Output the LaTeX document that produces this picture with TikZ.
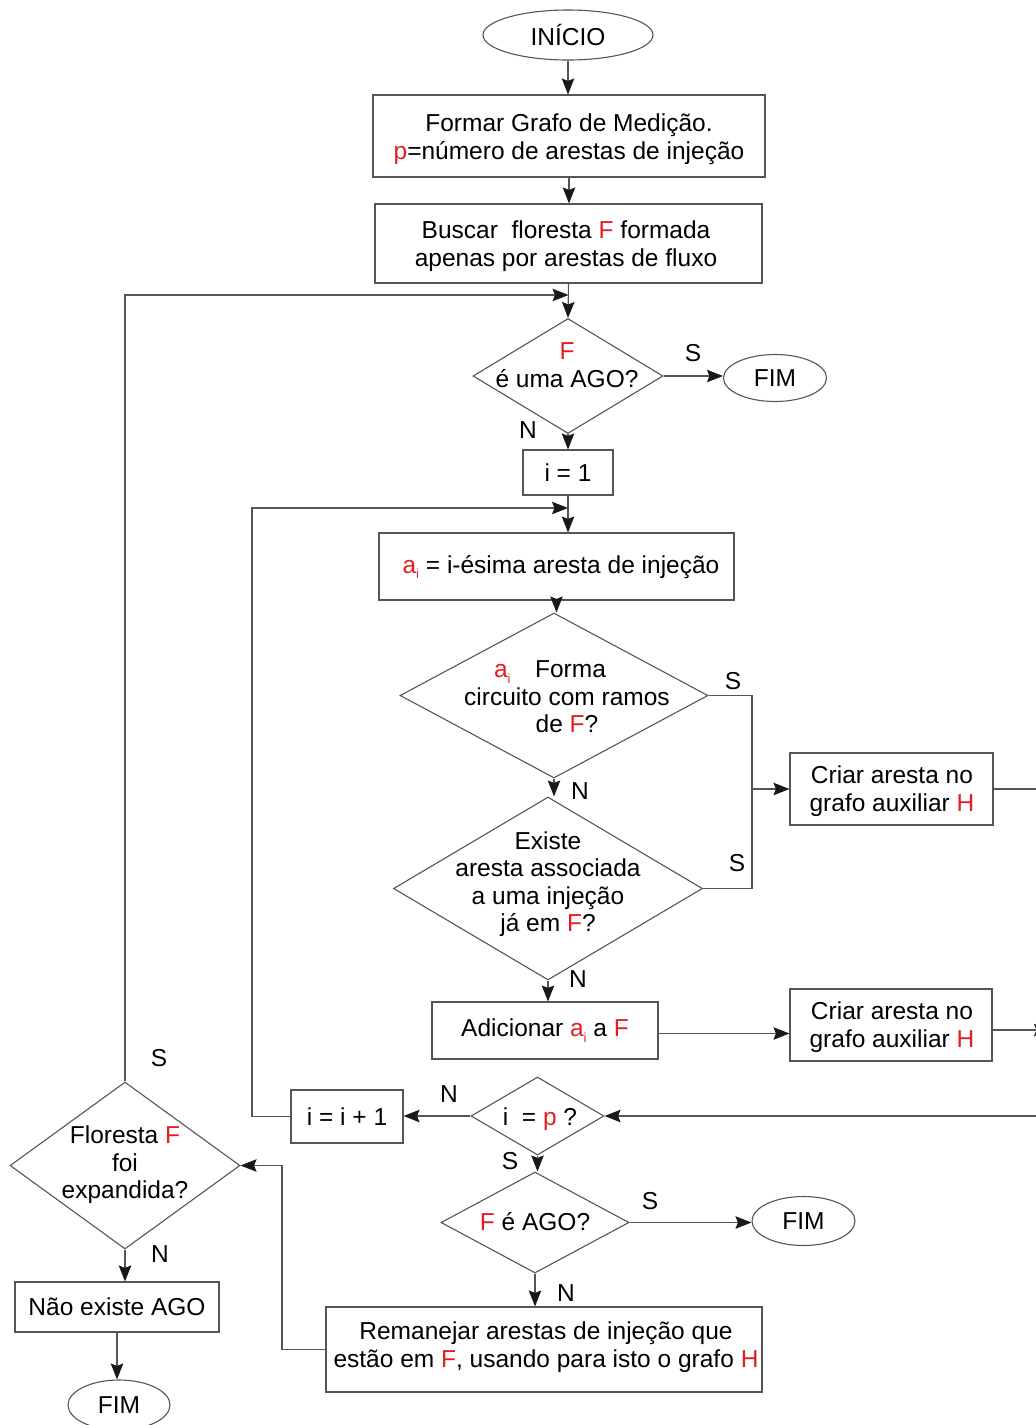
\documentclass[tikz,border=0pt]{standalone}
\usepackage{fontspec}
\setmainfont{Liberation Sans}
\usetikzlibrary{shapes.geometric,arrows.meta}
\definecolor{hlred}{RGB}{226,30,36}
\definecolor{ln}{RGB}{85,85,85}
\newcommand\rd[1]{\textcolor{hlred}{#1}}
\newcommand\subi{\raisebox{-0.45ex}{\fontsize{13}{13}\selectfont i}}
\begin{document}
\begin{tikzpicture}[x=1pt,y=-1pt,
  every node/.style={font=\fontsize{24.5}{27.5}\selectfont},
  box/.style={draw=ln, line width=1.1pt, rectangle, inner sep=0pt, align=center},
  term/.style={draw=ln, line width=1.1pt, ellipse, inner sep=0pt},
  dec/.style={draw=ln, line width=1.1pt, diamond, inner sep=0pt},
  txt/.style={align=center, inner sep=0pt},
  lab/.style={inner sep=0pt},
  link/.style={draw=ln, line width=1.1pt},
  flow/.style={draw=ln, line width=1.1pt,
    -{Stealth[length=16pt,width=12.5pt,inset=2.5pt,color=black!90]}}]
\useasboundingbox (0,0) rectangle (1036,1425);

% main column
\node[term, minimum width=170pt, minimum height=50pt] (start) at (568,35) {INÍCIO};
\node[box, minimum width=392pt, minimum height=82pt] (b1) at (569,136) {};
\node[txt] (b1t) at (569,139)
  {Formar Grafo de Medição.\\\rd{p}=número de arestas de injeção};
\node[box, minimum width=387pt, minimum height=79pt] (b2) at (568.5,243.5) {};
\node[txt] (b2t) at (566,246)
  {Buscar\ \ floresta \rd{F} formada\\apenas por arestas de fluxo};
\node[dec, minimum width=190pt, minimum height=115pt] (d1) at (568,376) {};
\node[txt] (d1t) at (567,365) {\rd{F}\\é uma AGO?};
\node[term, minimum width=103pt, minimum height=47pt] (fim1) at (775,378) {FIM};
\node[box, minimum width=90pt, minimum height=45pt] (i1) at (568,472.5) {i = 1};
\node[box, minimum width=355pt, minimum height=67pt] (ai) at (556.5,566.5) {};
\node[txt] (ait) at (561,567) {\rd{a\subi} = i-ésima aresta de injeção};
\node[dec, minimum width=308pt, minimum height=165pt] (d2) at (554,695.5) {};
\node[txt] (d2t) at (567,697)
  {\rd{a\subi}\quad Forma\hspace*{34pt}\\circuito com ramos\\de \rd{F}?};
\node[dec, minimum width=309pt, minimum height=183pt] (d3) at (548,888.5) {};
\node[txt] (d3t) at (548,884)
  {Existe\\aresta associada\\a uma injeção\\já em \rd{F}?};
\node[box, minimum width=203pt, minimum height=72pt] (c1) at (891.5,789) {};
\node[txt] (c1t) at (892,791) {Criar aresta no\\grafo auxiliar \rd{H}};
\node[box, minimum width=226pt, minimum height=57pt] (add) at (545,1030.5)
  {Adicionar \rd{a\subi} a \rd{F}};
\node[box, minimum width=202pt, minimum height=72pt] (c2) at (891,1025) {};
\node[txt] (c2t) at (892,1027) {Criar aresta no\\grafo auxiliar \rd{H}};
\node[dec, minimum width=133pt, minimum height=78pt] (d4) at (537.5,1116) {};
\node[txt] (d4t) at (540,1119) {i\ \ = \rd{p} ?};
\node[box, minimum width=112pt, minimum height=53pt] (ip1) at (347,1116.5) {i = i + 1};
\node[dec, minimum width=188pt, minimum height=101pt] (d5) at (535,1222.5) {};
\node[txt] (d5t) at (535,1222) {\rd{F} é AGO?};
\node[term, minimum width=103pt, minimum height=49pt] (fim2) at (803.5,1221) {FIM};
\node[box, minimum width=436pt, minimum height=85pt] (rem) at (544,1349.5) {};
\node[txt] (remt) at (546,1347)
  {Remanejar arestas de injeção que\\estão em \rd{F}, usando para isto o grafo \rd{H}};

% left column
\node[dec, minimum width=230pt, minimum height=167pt] (d6) at (125,1165.5) {};
\node[txt] (d6t) at (125,1165) {Floresta \rd{F}\\foi\\expandida?};
\node[box, minimum width=204pt, minimum height=50pt] (nao) at (117,1307) {Não existe AGO};
\node[term, minimum width=102pt, minimum height=50pt] (fim3) at (119,1405) {FIM};

% junction and routing points
\coordinate (m1) at (b2.south |- 0,295);
\coordinate (m2) at (i1.south |- 0,508);
\coordinate (bus) at (752,789);
\coordinate (lp) at (252,0);
\coordinate (rp) at (282,0);
\coordinate (e1) at (1036,790);
\coordinate (e2) at (1050,1030);
\coordinate (e3) at (1036,1116);

% connectors
\draw[flow] (start.south) -- (start.south |- b1.north);
\draw[flow] (b1.south) -- (b1.south |- b2.north);
\draw[flow] (b2.south) -- (d1.north);
\draw[flow] (d1.east) -- (d1.east -| fim1.west);
\draw[flow] (d1.south) -- (d1.south |- i1.north);
\draw[flow] (i1.south) -- (i1.south |- ai.north);
\draw[flow] (ai.south) -- (ai.south |- d2.north);
\draw[flow] (d2.south) -- (d2.south |- d3.north);
\draw[link] (d2.east) -- (d2.east -| bus) -- (d3.east -| bus) -- (d3.east);
\draw[flow] (bus) -- (bus -| c1.west);
\draw[link] (c1.east) -- (c1.east -| e1);
\draw[flow] (d3.south) -- (d3.south |- add.north);
\draw[flow] ([yshift=-3pt]add.east) -- ([yshift=-3pt]add.east -| c2.west);
\draw[flow] ([yshift=-5pt]c2.east) -- (e2);
\draw[flow] (e3) -- (d4.east);
\draw[flow] (d4.west) -- (d4.west -| ip1.east);
\draw[flow] (ip1.west) -- (ip1.west -| lp) -- (lp |- m2) -- (m2);
\draw[flow] (d4.south) -- (d4.south |- d5.north);
\draw[flow] (d5.east) -- (d5.east -| fim2.west);
\draw[flow] (d5.south) -- (d5.south |- rem.north);
\draw[flow] (rem.west) -- (rem.west -| rp) -- (rp |- d6.east) -- (d6.east);
\draw[flow] (d6.north) -- (d6.north |- m1) -- (m1);
\draw[flow] (d6.south) -- (d6.south |- nao.north);
\draw[flow] (nao.south) -- (nao.south |- fim3.north);

% branch labels
\node[lab] (l1) at (693,353) {S};
\node[lab] (l2) at (528,430) {N};
\node[lab] (l3) at (733,681) {S};
\node[lab] (l4) at (580,791) {N};
\node[lab] (l5) at (737,863) {S};
\node[lab] (l6) at (578,979) {N};
\node[lab] (l7) at (449,1094) {N};
\node[lab] (l8) at (510,1161) {S};
\node[lab] (l9) at (650,1201) {S};
\node[lab] (l10) at (566,1293) {N};
\node[lab] (l11) at (159,1058) {S};
\node[lab] (l12) at (160,1254) {N};
\end{tikzpicture}
\end{document}
